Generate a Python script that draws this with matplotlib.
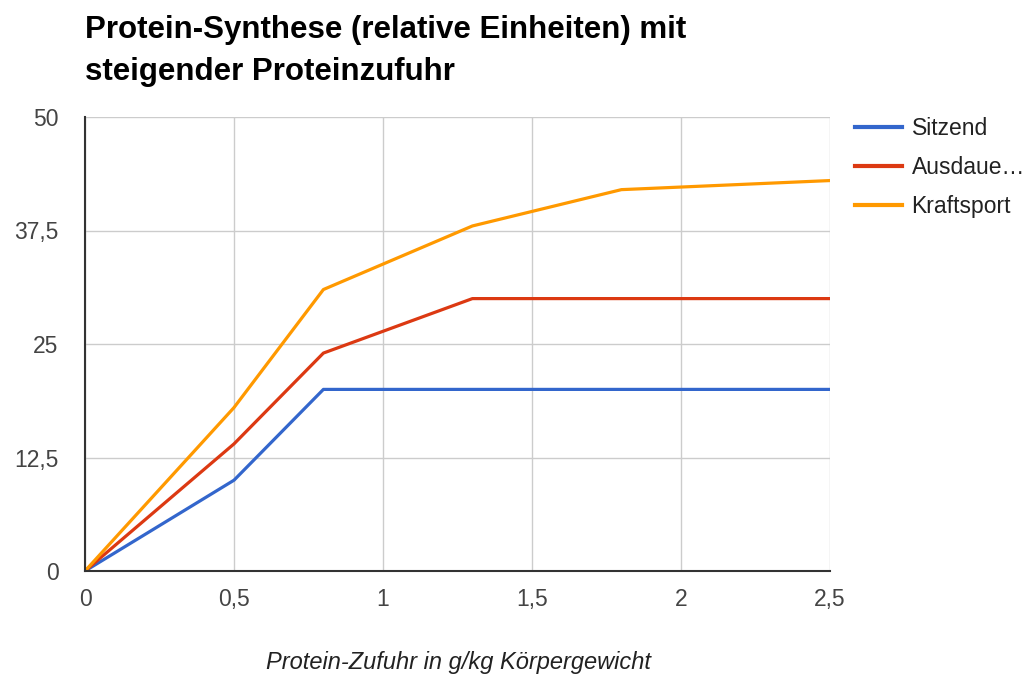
import matplotlib
matplotlib.use("Agg")
import matplotlib.pyplot as plt
from matplotlib.ticker import FixedLocator

x_vals = [0, 0.5, 0.8, 1.3, 1.8, 2.5]
sitzend = [0, 10, 20, 20, 20, 20]
ausdauer = [0, 14, 24, 30, 30, 30]
kraftsport = [0, 18, 31, 38, 42, 43]
series_names = ["Sitzend", "Ausdaue…", "Kraftsport"]
colors = ["#3366CC", "#DC3912", "#FF9900"]
x_ticks = [0, 0.5, 1, 1.5, 2, 2.5]
x_tick_labels = ["0", "0,5", "1", "1,5", "2", "2,5"]
y_ticks = [0, 12.5, 25, 37.5, 50]
y_tick_labels = ["0", "12,5", "25", "37,5", "50"]

plt.rcParams['font.family'] = ['Liberation Sans', 'DejaVu Sans']

fig = plt.figure(figsize=(10.36, 6.75), dpi=100)
ax = fig.add_axes([85/1036, 1-571/675, 745/1036, 454/675])

for ys, name, c in zip([sitzend, ausdauer, kraftsport], series_names, colors):
    ax.plot(x_vals, ys, color=c, lw=2.3, label=name, solid_joinstyle='round', zorder=3)

ax.set_xlim(0, 2.5)
ax.set_ylim(0, 50)
ax.xaxis.set_major_locator(FixedLocator(x_ticks))
ax.set_xticklabels(x_tick_labels)
ax.yaxis.set_major_locator(FixedLocator(y_ticks))
ax.set_yticklabels(y_tick_labels)
ax.tick_params(length=0, labelsize=16.5, colors="#444444")
ax.tick_params(axis='y', pad=19)
ax.tick_params(axis='x', pad=12)
ax.grid(True, color="#cccccc", lw=1, zorder=0)
for s in ["top", "right"]:
    ax.spines[s].set_visible(False)
for s in ["left", "bottom"]:
    ax.spines[s].set_color("#333333")
    ax.spines[s].set_linewidth(1.5)
    ax.spines[s].set_zorder(4)

fig.text(458/1036, 1-662/675, "Protein-Zufuhr in g/kg Körpergewicht", fontsize=17,
         style='italic', color="#222222", ha='center', va='center')

fig.text(85/1036, 1-38/675, "Protein-Synthese (relative Einheiten) mit", fontsize=22.5,
         fontweight='bold', color="#000000", ha='left', va='baseline')
fig.text(85/1036, 1-80/675, "steigender Proteinzufuhr", fontsize=22.5,
         fontweight='bold', color="#000000", ha='left', va='baseline')

leg = fig.legend(loc='upper left', bbox_to_anchor=(855/1036, 1-117/675), frameon=False,
                 fontsize=16.5, handlelength=2.05, handletextpad=0.42, labelspacing=0.7,
                 borderaxespad=0, borderpad=0)
for t in leg.get_texts():
    t.set_color("#222222")
for l in leg.get_lines():
    l.set_linewidth(3)

fig.savefig("out.png", dpi=100, facecolor="white")
